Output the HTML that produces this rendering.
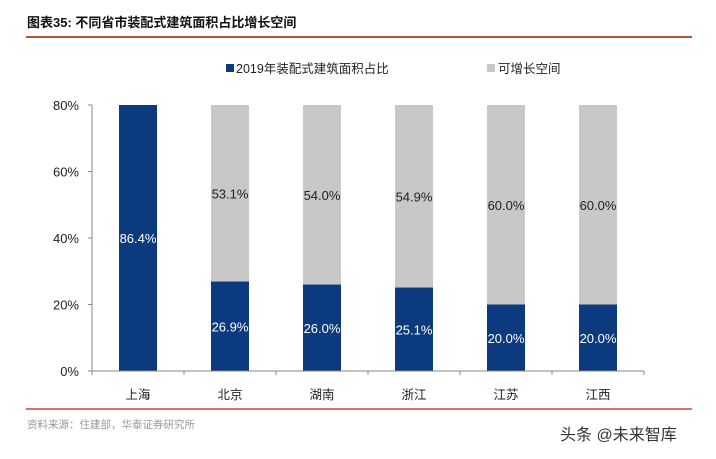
<!DOCTYPE html>
<html><head><meta charset="utf-8"><style>
body{margin:0;background:#fff;width:716px;height:454px;overflow:hidden;font-family:"Liberation Sans","Noto Sans CJK SC",sans-serif}
</style></head><body>
<svg width="716" height="454" xmlns="http://www.w3.org/2000/svg" font-family="Liberation Sans, Noto Sans CJK SC, sans-serif">
<text x="27" y="27" font-size="13" font-weight="bold" fill="#111">图表35:  不同省市装配式建筑面积占比增长空间</text>
<line x1="26" y1="37" x2="692" y2="37" stroke="#b5503a" stroke-width="2"/>
<rect x="226" y="64" width="8" height="8" fill="#0c3a7e"/>
<text x="236" y="73" font-size="12.5" fill="#222">2019年装配式建筑面积占比</text>
<rect x="487" y="64" width="8" height="8" fill="#c8c8c8"/>
<text x="498" y="73" font-size="12.5" fill="#222">可增长空间</text>
<g id="chart"></g>
<line x1="26" y1="409" x2="692" y2="409" stroke="#d04030" stroke-width="1.5"/>
<text x="27" y="428" font-size="10.5" fill="#999">资料来源：住建部，华泰证券研究所</text>
<text x="560" y="440" font-size="16" fill="#333">头条 @未来智库</text>
</svg>
<script>
const categories=["上海","北京","湖南","浙江","江苏","江西"];
const blueValues=[86.4,26.9,26.0,25.1,20.0,20.0];
const greyValues=[0,53.1,54.0,54.9,60.0,60.0];
const yTicks=[0,20,40,60,80];
const g=document.getElementById('chart');
const NS="http://www.w3.org/2000/svg";
const x0=92,bandW=92,y0=371,yTop=105,yMax=80,barW=38;
const y=v=>y0-(Math.min(v,yMax)/yMax)*(y0-yTop);
const xc=i=>x0+bandW*(i+0.5);
function el(t,a){const e=document.createElementNS(NS,t);for(const k in a)e.setAttribute(k,a[k]);g.appendChild(e);return e;}
yTicks.forEach(t=>{
 const tx=el('text',{x:79,y:y(t)+5,'font-size':13,'text-anchor':'end',fill:'#222'});
 
 
 tx.textContent=t+'%';
 const tk=el('line',{x1:88,x2:92,y1:y(t),y2:y(t),stroke:'#888'});
 
 
});
categories.forEach((c,i)=>{
 const b=blueValues[i],gr=greyValues[i];
 if(gr>0){
  const r=el('rect',{x:xc(i)-barW/2,y:y(b+gr),width:barW,height:y(b)-y(b+gr),fill:'#c8c8c8'});
  
  
  const t=el('text',{x:xc(i),y:(y(b)+y(b+gr))/2+5,'font-size':13,'text-anchor':'middle',fill:'#222'});
  
  
  t.textContent=gr.toFixed(1)+'%';
 }
 const r=el('rect',{x:xc(i)-barW/2,y:y(b),width:barW,height:y0-y(b),fill:'#0c3a7e'});
 
 
 const t=el('text',{x:xc(i),y:(y(b)+y0)/2+5,'font-size':13,'text-anchor':'middle',fill:'#fff'});
 
 
 t.textContent=b.toFixed(1)+'%';
 const cl=el('text',{x:xc(i),y:399,'font-size':12.5,'text-anchor':'middle',fill:'#222'});
 
 
 cl.textContent=c;
});
for(let i=0;i<=categories.length;i++){
 const tk=el('line',{x1:x0+bandW*i,x2:x0+bandW*i,y1:y0,y2:y0+4,stroke:'#888'});
 
 
}
const ya=el('line',{x1:92,x2:92,y1:yTop,y2:y0,stroke:'#888'});


const xa=el('line',{x1:92,x2:x0+bandW*categories.length,y1:y0,y2:y0,stroke:'#888'});


</script>
</body></html>
